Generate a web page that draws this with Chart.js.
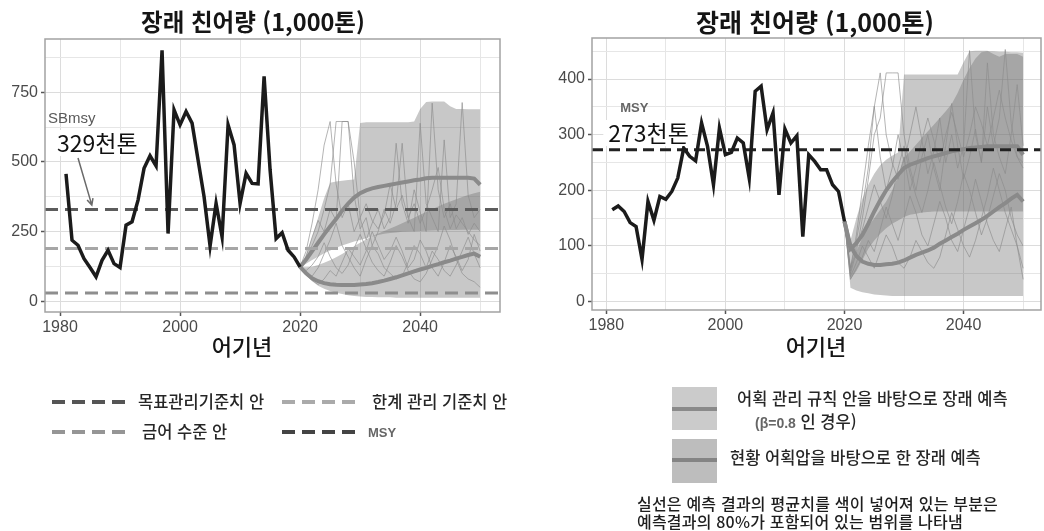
<!DOCTYPE html>
<html lang="ko">
<head>
<meta charset="utf-8">
<script src="https://cdn.jsdelivr.net/npm/chart.js@4.4.1/dist/chart.umd.min.js"></script>
<style>
  body { margin: 0; width: 1044px; height: 531px; background: #fff; position: relative; overflow: hidden;
         font-family: "Noto Sans CJK KR", "Noto Sans", sans-serif; color: #151515; }
  canvas { position: absolute; top: 0; }
  .t { position: absolute; white-space: nowrap; line-height: 1; }
  .title { font-weight: 700; text-align: center; }
  .axt { font-size: 22px; font-weight: 500; text-align: center; }
  .lg { font-size: 16.5px; font-weight: 500; color: #262626; }
  svg { position: absolute; overflow: visible; }
</style>
</head>
<body>
<canvas id="left" width="506" height="340" style="left:0"></canvas>
<canvas id="right" width="524" height="340" style="left:520px"></canvas>

<div class="t title" style="left:0; width:506px; top:10px; font-size:23.5px">장래 친어량 (1,000톤)</div>
<div class="t title" style="left:615px; width:400px; top:9px; font-size:25px">장래 친어량 (1,000톤)</div>
<div class="t axt" style="left:192px; width:100px; top:334px">어기년</div>
<div class="t axt" style="left:766px; width:100px; top:334px">어기년</div>

<svg width="1044" height="531" style="left:0; top:0">
  <line x1="52" y1="402" x2="126" y2="402" stroke="#555" stroke-width="4" stroke-dasharray="13 7"/>
  <line x1="282" y1="402" x2="356" y2="402" stroke="#aaa" stroke-width="4" stroke-dasharray="13 7"/>
  <line x1="52" y1="432" x2="126" y2="432" stroke="#959595" stroke-width="4" stroke-dasharray="13 7"/>
  <line x1="282" y1="432" x2="356" y2="432" stroke="#444" stroke-width="4" stroke-dasharray="13 7"/>
  <rect x="672" y="387" width="45" height="43" fill="#cbcbcb"/>
  <line x1="672" y1="409" x2="717" y2="409" stroke="#8a8a8a" stroke-width="4"/>
  <rect x="672" y="439" width="45" height="44" fill="#bdbdbd"/>
  <line x1="672" y1="460" x2="717" y2="460" stroke="#848484" stroke-width="4"/>
</svg>
<div class="t lg" style="left:138px; top:393px">목표관리기준치 안</div>
<div class="t lg" style="left:372px; top:393px">한계 관리 기준치 안</div>
<div class="t lg" style="left:142px; top:423px">금어 수준 안</div>
<div class="t" style="left:368px; top:425px; font:bold 13px 'Liberation Sans'; color:#666">MSY</div>

<div class="t lg" style="left:737px; top:390px">어획 관리 규칙 안을 바탕으로 장래 예측</div>
<div class="t lg" style="left:755px; top:413px"><span style="font:bold 14px 'Liberation Sans Narrow','Liberation Sans'; color:#666">(β=0.8</span> 인 경우)</div>
<div class="t lg" style="left:730px; top:449px">현황 어획압을 바탕으로 한 장래 예측</div>
<div class="t" style="left:637px; top:494px; font-size:16px; font-weight:500; line-height:18px; color:#1e1e1e; letter-spacing:0.2px">실선은 예측 결과의 평균치를 색이 넣어져 있는 부분은<br>예측결과의 80%가 포함되어 있는 범위를 나타냄</div>

<script>
// ---------- data ----------
const histYears = [1981, 1982, 1983, 1984, 1985, 1986, 1987, 1988, 1989, 1990,
  1991, 1992, 1993, 1994, 1995, 1996, 1997, 1998, 1999, 2000,
  2001, 2002, 2003, 2004, 2005, 2006, 2007, 2008, 2009, 2010,
  2011, 2012, 2013, 2014, 2015, 2016, 2017, 2018, 2019, 2020];
const projYears = [2020, 2021, 2022, 2023, 2024, 2025, 2026, 2027, 2028, 2029, 2030,
  2031, 2032, 2033, 2034, 2035, 2036, 2037, 2038, 2039, 2040,
  2041, 2042, 2043, 2044, 2045, 2046, 2047, 2048, 2049, 2050];

// left panel: spawning stock biomass (1,000 t)
const ssbHist = [457, 219, 201, 153, 121, 88, 147, 183, 135, 121,
  273, 285, 363, 477, 522, 486, 900, 243, 687, 633,
  681, 639, 507, 375, 198, 351, 231, 633, 561, 351,
  459, 423, 421, 807, 471, 225, 246, 183, 159, 123];
const ssbRuleMean = [123, 150, 180, 210, 240, 268, 295, 325, 350, 372, 388,
  398, 405, 410, 414, 418, 422, 426, 430, 434, 437,
  441, 443, 443, 443, 443, 443, 443, 443, 440, 418];
const ssbRuleLo = [123, 135, 148, 160, 172, 182, 192, 200, 207, 214, 220,
  226, 232, 238, 242, 245, 247, 249, 250, 251, 252,
  253, 254, 255, 255, 256, 256, 257, 257, 257, 257];
const ssbRuleHi = [123, 170, 230, 300, 370, 425, 430, 432, 435, 437, 640,
  642, 642, 642, 642, 642, 642, 642, 642, 645, 690,
  715, 717, 717, 717, 700, 690, 690, 689, 689, 689];
const ssbCurMean = [123, 100, 82, 72, 65, 61, 59, 58, 58, 58, 60,
  62, 65, 69, 74, 80, 86, 93, 100, 107, 114,
  120, 127, 133, 140, 146, 153, 159, 166, 171, 160];
const ssbCurLo = [123, 95, 72, 56, 45, 37, 31, 26, 22, 19, 17,
  15, 15, 14, 14, 14, 13, 13, 13, 13, 13,
  13, 13, 13, 13, 13, 13, 13, 13, 13, 13];
const ssbCurHi = [123, 122, 124, 130, 138, 147, 158, 170, 183, 197, 210,
  222, 233, 243, 252, 261, 270, 280, 290, 300, 310,
  320, 330, 340, 350, 358, 366, 374, 381, 388, 393];
const ssbRuns = [
  [123, 180, 280, 400, 560, 645, 420, 300, 350, 250, 300, 220, 280, 330, 260, 300, 567, 350, 280, 400, 320, 250, 711, 400, 300, 350, 260, 300, 240, 280, 250],
  [123, 150, 200, 250, 330, 420, 645, 645, 645, 380, 260, 300, 200, 250, 330, 280, 350, 567, 300, 250, 639, 350, 300, 250, 579, 300, 350, 713, 380, 300, 330],
  [123, 100, 90, 120, 170, 220, 280, 200, 160, 120, 90, 150, 200, 170, 120, 100, 80, 90, 140, 200, 170, 120, 180, 150, 110, 90, 130, 180, 230, 170, 120],
  [123, 110, 130, 160, 210, 160, 120, 100, 130, 190, 240, 190, 140, 110, 90, 140, 200, 160, 110, 80, 70, 100, 150, 200, 270, 220, 150, 100, 80, 70, 50],
  [123, 160, 230, 290, 250, 330, 290, 645, 645, 500, 300, 350, 290, 260, 310, 420, 330, 380, 300, 350, 280, 330, 400, 480, 330, 260, 310, 280, 250, 220, 200],
  [123, 95, 75, 60, 80, 110, 90, 140, 190, 160, 130, 180, 250, 200, 150, 180, 230, 180, 120, 150, 220, 180, 120, 90, 140, 200, 160, 110, 150, 240, 180]
];
const SBMSY = 329, LIMIT_REF = 189, CLOSURE_REF = 30;

// right panel: yield (1,000 t)
const yieldHist = [165, 172, 162, 142, 135, 76, 180, 146, 189, 184,
  198, 222, 276, 261, 253, 321, 279, 210, 312, 264,
  268, 294, 285, 222, 378, 387, 309, 339, 192, 310,
  285, 298, 117, 264, 252, 237, 237, 210, 198, 144];
const yieldRuleMean = [144, 95, 105, 120, 140, 162, 182, 200, 215, 228, 240,
  246, 250, 254, 258, 261, 264, 267, 270, 272, 274,
  276, 277, 278, 279, 279, 279, 279, 279, 279, 264];
const yieldRuleLo = [144, 40, 55, 75, 95, 110, 122, 132, 140, 146, 152,
  156, 158, 160, 161, 162, 162, 162, 162, 162, 162,
  162, 162, 162, 162, 162, 162, 162, 162, 162, 162];
const yieldRuleHi = [144, 110, 150, 185, 210, 230, 245, 255, 262, 268, 408,
  408, 408, 408, 408, 408, 408, 408, 408, 408, 430,
  450, 451, 451, 451, 445, 440, 445, 445, 445, 440];
const yieldCurMean = [144, 100, 82, 72, 68, 66, 66, 67, 68, 70, 74,
  79, 84, 88, 92, 97, 104, 110, 116, 122, 129,
  135, 141, 147, 154, 162, 170, 177, 185, 192, 180];
const yieldCurLo = [144, 25, 20, 17, 15, 13, 12, 11, 10, 10, 10,
  10, 10, 10, 10, 10, 10, 10, 10, 10, 10,
  10, 10, 10, 10, 10, 10, 10, 10, 10, 10];
const yieldCurHi = [144, 65, 90, 115, 135, 150, 165, 180, 200, 225, 258,
  270, 282, 294, 306, 318, 330, 342, 355, 375, 399,
  420, 437, 448, 450, 450, 449, 449, 448, 448, 447];
const yieldRuns = [
  [144, 60, 120, 200, 280, 350, 411, 300, 250, 220, 260, 200, 240, 290, 230, 270, 330, 250, 300, 240, 280, 451, 300, 250, 350, 280, 330, 453, 320, 260, 240],
  [144, 50, 90, 150, 220, 300, 330, 411, 411, 411, 300, 240, 200, 260, 300, 240, 200, 280, 356, 280, 220, 260, 310, 250, 429, 300, 260, 230, 300, 390, 280],
  [144, 40, 60, 80, 110, 90, 130, 170, 140, 110, 150, 190, 160, 120, 100, 140, 180, 150, 110, 90, 130, 170, 220, 180, 140, 110, 90, 130, 170, 100, 60],
  [144, 55, 100, 130, 170, 210, 180, 150, 190, 240, 280, 230, 190, 160, 200, 250, 210, 170, 140, 180, 230, 200, 160, 120, 150, 190, 230, 200, 150, 120, 100],
  [144, 45, 70, 100, 80, 60, 90, 120, 100, 70, 60, 80, 110, 90, 70, 60, 80, 120, 160, 130, 100, 80, 110, 150, 190, 240, 200, 160, 130, 100, 40],
  [144, 60, 110, 170, 240, 351, 260, 200, 240, 300, 250, 300, 350, 290, 330, 290, 250, 300, 340, 300, 260, 300, 350, 320, 280, 330, 380, 330, 290, 260, 250]
];
const MSY = 273;

// ---------- helpers ----------
const pts = (xs, ys) => xs.map((x, i) => ({ x, y: ys[i] }));
const NONE = 'rgba(0,0,0,0)';
const BAND = 'rgba(110,110,110,0.38)';

// panel border + in-plot notes (placed in data coordinates)
const panelPlugin = {
  id: 'panel',
  afterDatasetsDraw(chart, args, opts) {
    const { ctx, chartArea: a, scales: { x, y } } = chart;
    ctx.save();
    ctx.strokeStyle = '#a2a2a2';
    ctx.lineWidth = 1.5;
    ctx.strokeRect(a.left, a.top, a.right - a.left, a.bottom - a.top);
    for (const n of opts.items || []) {
      if (n.arrow) {
        const [ax, ay, bx, by] = n.arrow;
        const x1 = x.getPixelForValue(ax), y1 = y.getPixelForValue(ay);
        const x2 = x.getPixelForValue(bx), y2 = y.getPixelForValue(by);
        const ang = Math.atan2(y2 - y1, x2 - x1);
        ctx.strokeStyle = n.color;
        ctx.lineWidth = 1.5;
        ctx.beginPath();
        ctx.moveTo(x1, y1); ctx.lineTo(x2, y2);
        ctx.moveTo(x2 - 7 * Math.cos(ang - 0.45), y2 - 7 * Math.sin(ang - 0.45));
        ctx.lineTo(x2, y2);
        ctx.lineTo(x2 - 7 * Math.cos(ang + 0.45), y2 - 7 * Math.sin(ang + 0.45));
        ctx.stroke();
        continue;
      }
      ctx.font = n.font;
      const px = x.getPixelForValue(n.x), py = y.getPixelForValue(n.y);
      if (n.bg) {
        const w = ctx.measureText(n.text).width;
        ctx.fillStyle = n.bg;
        ctx.fillRect(px - 5, py - 13, w + 8, 26);
      }
      ctx.fillStyle = n.color;
      ctx.textAlign = 'left';
      ctx.textBaseline = 'middle';
      ctx.fillText(n.text, px, py);
    }
    ctx.restore();
  }
};

function axis(min, max, step, every, fitSize, isX) {
  return {
    type: 'linear', min, max,
    afterFit: s => { if (isX) s.height = fitSize; else s.width = fitSize; },
    border: { display: false },
    grid: {
      color: c => (c.tick && c.tick.value % every === 0) ? '#dcdcdc' : '#e6e6e6',
      lineWidth: 1,
      tickLength: 4,
      tickWidth: 1.5,
      tickColor: c => (c.tick && c.tick.value % every === 0) ? '#555' : NONE
    },
    ticks: {
      stepSize: step, includeBounds: false, autoSkip: false, maxTicksLimit: 30, maxRotation: 0,
      padding: isX ? 2 : 3, color: '#4a4a4a',
      font: { family: 'Liberation Sans', size: 16 },
      callback: v => v % every === 0 ? String(v) : ''
    }
  };
}

function refLine(xMin, xMax, v, color, dash) {
  return { data: pts([xMin, xMax], [v, v]), borderColor: color, borderWidth: 3, borderDash: dash };
}

function build(id, o) {
  const datasets = [
    { data: pts(histYears, o.hist), borderColor: '#1b1b1b', borderWidth: 3.5 },
    ...o.refs.map(r => refLine(o.xMin, o.xMax, r[0], r[1], r[2])),
    { data: pts(projYears, o.ruleMean), borderColor: '#8a8a8a', borderWidth: 4 },
    { data: pts(projYears, o.curMean), borderColor: '#8a8a8a', borderWidth: 4 },
    ...o.runs.map(r => ({ data: pts(projYears, r), borderColor: 'rgba(140,140,140,0.65)', borderWidth: 1 })),
    { data: pts(projYears, o.ruleLo), borderColor: NONE, borderWidth: 0, fill: false },
    { data: pts(projYears, o.ruleHi), borderColor: NONE, borderWidth: 0, fill: '-1', backgroundColor: BAND },
    { data: pts(projYears, o.curLo), borderColor: NONE, borderWidth: 0, fill: false },
    { data: pts(projYears, o.curHi), borderColor: NONE, borderWidth: 0, fill: '-1', backgroundColor: BAND }
  ];
  return new Chart(document.getElementById(id), {
    type: 'line',
    data: { datasets },
    plugins: [panelPlugin],
    options: {
      responsive: false,
      animation: false,
      layout: { padding: o.pad },
      elements: { point: { radius: 0 }, line: { tension: 0 } },
      plugins: { legend: { display: false }, tooltip: { enabled: false }, panel: { items: o.notes } },
      scales: {
        x: axis(o.xMin, o.xMax, 10, 20, o.xFit, true),
        y: axis(o.yMin, o.yMax, o.yStep, o.yEvery, o.yFit, false)
      }
    }
  });
}

build('left', {
  hist: ssbHist, ruleMean: ssbRuleMean, ruleLo: ssbRuleLo, ruleHi: ssbRuleHi,
  curMean: ssbCurMean, curLo: ssbCurLo, curHi: ssbCurHi, runs: ssbRuns,
  refs: [[SBMSY, '#5c5c5c', [13, 7]], [LIMIT_REF, '#a6a6a6', [13, 7]], [CLOSURE_REF, '#8e8e8e', [13, 7]]],
  xMin: 1977.5, xMax: 2053.3, yMin: -38.5, yMax: 941, yStep: 125, yEvery: 250,
  xFit: 28, yFit: 45, pad: { top: 39, right: 6, left: 0, bottom: 0 },
  notes: [
    { text: 'SBmsy', x: 1978.0, y: 655, font: '15px "Liberation Sans"', color: '#5a5a5a' },
    { text: '329천톤', x: 1979.5, y: 568, font: '23px "Noto Sans CJK KR"', color: '#111', bg: '#fff' },
    { arrow: [1983.0, 514, 1985.3, 345], color: '#6a6a6a' }
  ]
});

build('right', {
  hist: yieldHist, ruleMean: yieldRuleMean, ruleLo: yieldRuleLo, ruleHi: yieldRuleHi,
  curMean: yieldCurMean, curLo: yieldCurLo, curHi: yieldCurHi, runs: yieldRuns,
  refs: [[MSY, '#222', [11, 6]]],
  xMin: 1977.6, xMax: 2053, yMin: -15, yMax: 473.7, yStep: 50, yEvery: 100,
  xFit: 30, yFit: 72, pad: { top: 38, right: 3, left: 0, bottom: 0 },
  notes: [
    { text: 'MSY', x: 1982.35, y: 347, font: 'bold 13px "Liberation Sans"', color: '#666' },
    { text: '273천톤', x: 1980.34, y: 303, font: '23px "Noto Sans CJK KR"', color: '#111', bg: '#fff' }
  ]
});
</script>
</body>
</html>
